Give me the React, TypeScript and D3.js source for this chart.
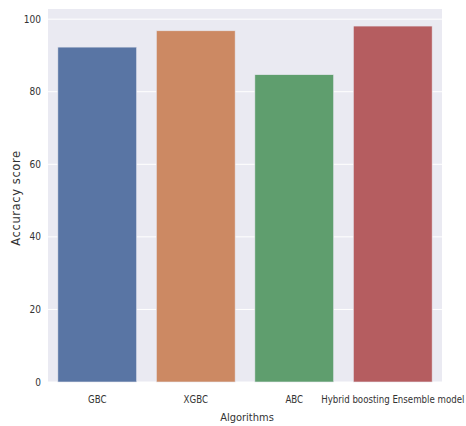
import React from "react";
import * as d3 from "d3";

const categories = ["GBC", "XGBC", "ABC", "Hybrid boosting Ensemble model"];
const scores = [92.3, 96.8, 84.7, 98.1];
const colors = ["#5975a4", "#cc8963", "#5f9e6e", "#b55d60"];
const yTicks = [0, 20, 40, 60, 80, 100];

export default function App() {
  const W = 466, H = 426;
  const left = 48, right = 442, top = 9, bottom = 382;
  const x = d3.scaleBand<string>().domain(categories).range([left, right]).paddingInner(0.2).paddingOuter(0.1);
  const y = d3.scaleLinear().domain([0, 102.8]).range([bottom, top]);
  const font = "'DejaVu Sans Condensed', 'DejaVu Sans', sans-serif";
  return (
    <svg width={W} height={H} style={{ position: "absolute", left: 0, top: 0, background: "#fff" }}>
      <rect x={left} y={top} width={right - left} height={bottom - top} fill="#eaeaf2" />
      {yTicks.map((t) => (
        <line key={t} x1={left} x2={right} y1={y(t)} y2={y(t)} stroke="#fff" strokeWidth={1} />
      ))}
      {categories.map((c, i) => (
        <rect key={c} x={x(c)!} width={x.bandwidth()} y={y(scores[i])} height={bottom - y(scores[i])}
          fill={colors[i]} stroke="#e6e6ee" strokeWidth={0.6} />
      ))}
      {yTicks.map((t) => (
        <text key={t} x={41} y={y(t)} dy="0.35em" textAnchor="end" fontSize={10} fill="#333" fontFamily={font}>{t}</text>
      ))}
      {categories.map((c) => (
        <text key={c} x={x(c)! + x.bandwidth() / 2} y={400} dy="0.35em" textAnchor="middle" fontSize={9.6} fill="#333" fontFamily={font}>{c}</text>
      ))}
      <text x={247} y={417} dy="0.35em" textAnchor="middle" fontSize={11} fill="#333" fontFamily={font}>Algorithms</text>
      <text transform={`translate(16,198) rotate(-90)`} dy="0.35em" textAnchor="middle" fontSize={11.5} letterSpacing={0.6} fill="#333" fontFamily="'DejaVu Sans', sans-serif">Accuracy score</text>
    </svg>
  );
}
